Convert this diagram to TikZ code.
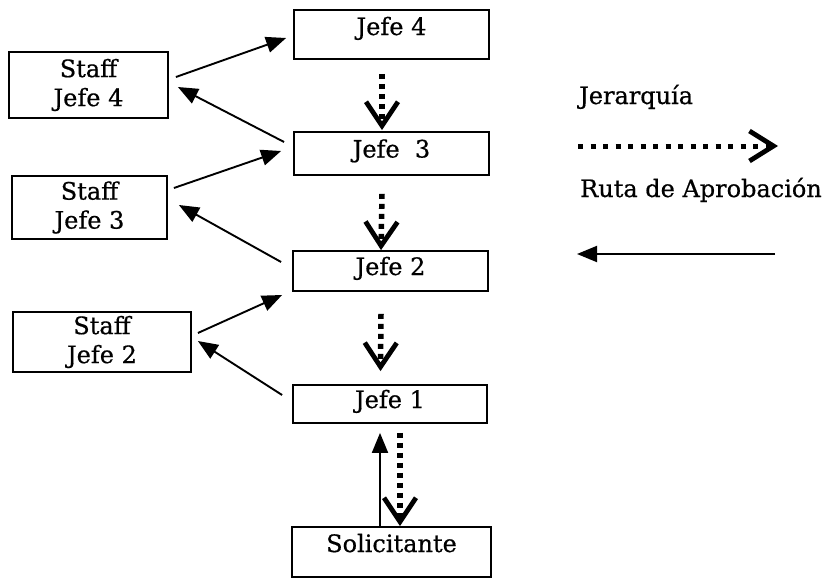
\documentclass[tikz,border=0pt]{standalone}
\usepackage{fontspec}
\setmainfont{DejaVu Serif}[FakeBold=0.6]
\usetikzlibrary{arrows.meta,calc}
\begin{document}
\begin{tikzpicture}[x=1pt,y=-1pt,
  labelfont/.style={font=\fontsize{24}{29}\selectfont\addfontfeature{FakeBold=0.6}},
  box/.style={draw,line width=1.8pt,rectangle,inner sep=0pt,labelfont,
    text height=16pt,text depth=8pt},
  staffbox/.style={draw,line width=1.8pt,rectangle,inner sep=0pt,align=center,labelfont},
  approval/.style={line width=1.9pt,-{Triangle[length=20pt,width=16pt]}},
  hier/.style={line width=5.5pt,dash pattern=on 5pt off 5pt,
    -{Straight Barb[length=24pt,width=32pt,line width=4.8pt]}},
  legendtext/.style={anchor=base west,inner sep=0pt,labelfont}]
\useasboundingbox[fill=white] (0,0) rectangle (824,581);

% chain of bosses
\node[box,minimum width=195pt,minimum height=49pt,text depth=15pt] (J4) at (391.5,34.5) {Jefe 4};
\node[box,minimum width=195pt,minimum height=43pt] (J3) at (391.5,153.5) {Jefe\ \ 3};
\node[box,minimum width=195pt,minimum height=40pt] (J2) at (390.5,271) {Jefe 2};
\node[box,minimum width=194pt,minimum height=38pt] (J1) at (390,404) {Jefe 1};
\node[box,minimum width=199pt,minimum height=50pt,text depth=16pt] (Sol) at (391.5,552) {Solicitante};

% staff boxes
\node[staffbox,minimum width=159pt,minimum height=66pt] (S4) at (88.5,85) {Staff\\Jefe 4};
\node[staffbox,minimum width=155pt,minimum height=63pt] (S3) at (89.5,207.5) {Staff\\Jefe 3};
\node[staffbox,minimum width=178pt,minimum height=60pt] (S2) at (102,342) {Staff\\Jefe 2};

% approval route
\draw[approval] ($(S4.east)+(7,-8)$) -- ($(J4.west)+(-7,3.5)$);
\draw[approval] ($(J3.west)+(-9,-11.5)$) -- ($(S4.east)+(9,2)$);
\draw[approval] ($(S3.east)+(6,-19.5)$) -- ($(J3.west)+(-12,-2.5)$);
\draw[approval] ($(J2.west)+(-11,-9)$) -- ($(S3.east)+(11,-2.5)$);
\draw[approval] ($(S2.east)+(6,-9)$) -- ($(J2.west)+(-10,24)$);
\draw[approval] ($(J1.west)+(-10,-9)$) -- ($(S2.east)+(6,-1)$);
\draw[approval] ($(Sol.north)+(-11.5,0)$) -- ($(J1.south)+(-10,9)$);

% hierarchy
\draw[hier] ($(J4.south)+(-9.5,14)$) -- ($(J3.north)+(-9.5,-1)$);
\draw[hier] ($(J3.south)+(-9.5,18)$) -- ($(J2.north)+(-9.5,0)$);
\draw[hier] ($(J2.south)+(-9.5,22)$) -- ($(J1.north)+(-9.5,-13)$);
\draw[hier] ($(J1.south)+(10,9)$) -- ($(Sol.north)+(8.5,0)$);

% legend
\node[legendtext] (lj) at (579,104) {Jerarquía};
\node[legendtext] (lr) at (580,197) {Ruta de Aprobación};
\coordinate (hs) at (578,146);
\coordinate (he) at (778,146);
\draw[line width=5pt,dash pattern=on 5pt off 7.5pt,
  -{Straight Barb[length=24pt,width=30pt,line width=4.8pt]}] (hs) -- (he);
\coordinate (as) at (775,254);
\coordinate (ae) at (577,254);
\draw[approval] (as) -- (ae);
\end{tikzpicture}
\end{document}
